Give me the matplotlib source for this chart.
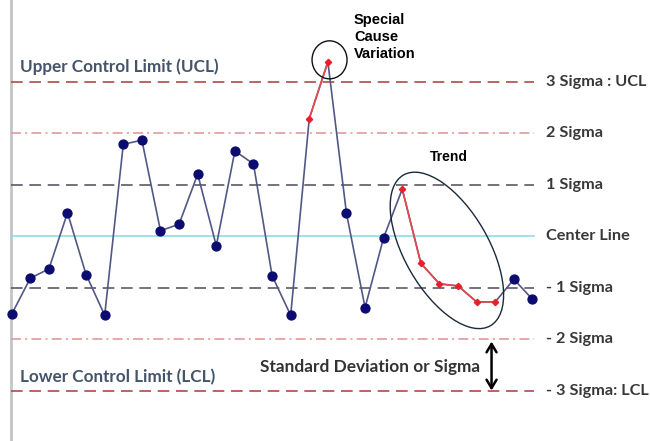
import matplotlib
matplotlib.use("Agg")
import matplotlib.pyplot as plt
from matplotlib.patches import Ellipse
from matplotlib.transforms import ScaledTranslation

# ---- data (in sigma units, centre line = 0) ----
values = [-1.51, -0.81, -0.63, 0.46, -0.74, -1.53, 1.79, 1.87, 0.11, 0.24,
          1.21, -0.18, 1.66, 1.41, -0.76, -1.53, 2.29, 3.39, 0.45, -1.38,
          -0.02, 0.92, -0.52, -0.92, -0.96, -1.27, -1.27, -0.83, -1.22]
special_idx = [16, 17]
trend_idx = [21, 22, 23, 24, 25, 26]
levels = [3, 2, 1, 0, -1, -2, -3]
level_labels = ["3 Sigma : UCL", "2 Sigma", "1 Sigma", "Center Line",
                "- 1 Sigma", "- 2 Sigma", "- 3 Sigma: LCL"]

W, H = 650, 441
fig = plt.figure(figsize=(W / 100, H / 100), dpi=100)
ax = fig.add_axes([0, 0, 1, 1])
ax.set_xlim(-0.629, 34.32)
ax.set_ylim(-3.971, 4.592)
ax.axis("off")

label_font = "Lato"

# reference lines
styles = {
    3: dict(color="#b04a4a", ls=(0, (7, 4)), lw=1.2),
    2: dict(color="#e39a9a", ls=(0, (6, 2.5, 1.2, 2.5)), lw=1.2),
    1: dict(color="#5a5a66", ls=(0, (7, 4)), lw=1.2),
    0: dict(color="#8fdde6", ls="-", lw=1.2),
    -1: dict(color="#5a5a66", ls=(0, (7, 4)), lw=1.2),
    -2: dict(color="#e39a9a", ls=(0, (6, 2.5, 1.2, 2.5)), lw=1.2),
    -3: dict(color="#b04a4a", ls=(0, (7, 4)), lw=1.2),
}
for lev, lab in zip(levels, level_labels):
    ax.plot([-0.04, 28.1], [lev, lev], zorder=1, **styles[lev])
    ax.text(28.75, lev, lab, ha="left", va="center", fontsize=11.7,
            family=label_font, weight="bold", color="#383838")

# left vertical axis line
ax.axvline(-0.05, color="#c4c4c4", lw=2, zorder=0)

x = list(range(len(values)))
ax.plot(x, values, color="#525885", lw=1.2, zorder=2)

# red segments
for seg in (special_idx, trend_idx):
    ax.plot(seg, [values[i] for i in seg], color="#e8474a", lw=1.2, zorder=3)

red_set = set(special_idx) | set(trend_idx)
bx = [i for i in x if i not in red_set]
ax.plot(bx, [values[i] for i in bx], ls="none", marker="o", ms=6.4,
        color="#0c0c70", zorder=4)
rx = [i for i in x if i in red_set]
ax.plot(rx, [values[i] for i in rx], ls="none", marker="D", ms=3.2,
        color="#e81e2a", zorder=4)

# annotations
ax.text(0.45, 3.29, "Upper Control Limit (UCL)", ha="left", va="center",
        fontsize=12.3, family=label_font, weight="bold", color="#44546a")
ax.text(0.45, -2.74, "Lower Control Limit (LCL)", ha="left", va="center",
        fontsize=12.3, family=label_font, weight="bold", color="#44546a")
ax.text(25.18, -2.53, "Standard Deviation or Sigma", ha="right", va="center",
        fontsize=12.4, family=label_font, weight="bold", color="#333333")
ax.annotate("", xy=(25.8, -2.04), xytext=(25.8, -2.99),
            arrowprops=dict(arrowstyle="<->,head_length=0.5,head_width=0.3",
                            color="black", lw=1.8, mutation_scale=12,
                            shrinkA=0, shrinkB=0))

ax.text(18.4, 3.874, "Special\nCause\nVariation", ha="left", va="center",
        fontsize=10.5, family="Liberation Sans", weight="bold",
        color="black", linespacing=1.25)
ax.text(22.5, 1.544, "Trend", ha="left", va="center", fontsize=10,
        family="Liberation Sans", weight="bold", color="black")

# ellipses (sizes in inches, centres in data units)
tr1 = fig.dpi_scale_trans + ScaledTranslation(17.09, 3.43, ax.transData)
ax.add_patch(Ellipse((0, 0), 0.35, 0.38, transform=tr1, fill=False,
                     ec="#111111", lw=1.0, zorder=5))
tr2 = fig.dpi_scale_trans + ScaledTranslation(23.40, -0.27, ax.transData)
ax.add_patch(Ellipse((0, 0), 1.74, 0.84, angle=-60, transform=tr2,
                     fill=False, ec="#1a2a3a", lw=1.0, zorder=5))

fig.savefig("out.png", dpi=100)
